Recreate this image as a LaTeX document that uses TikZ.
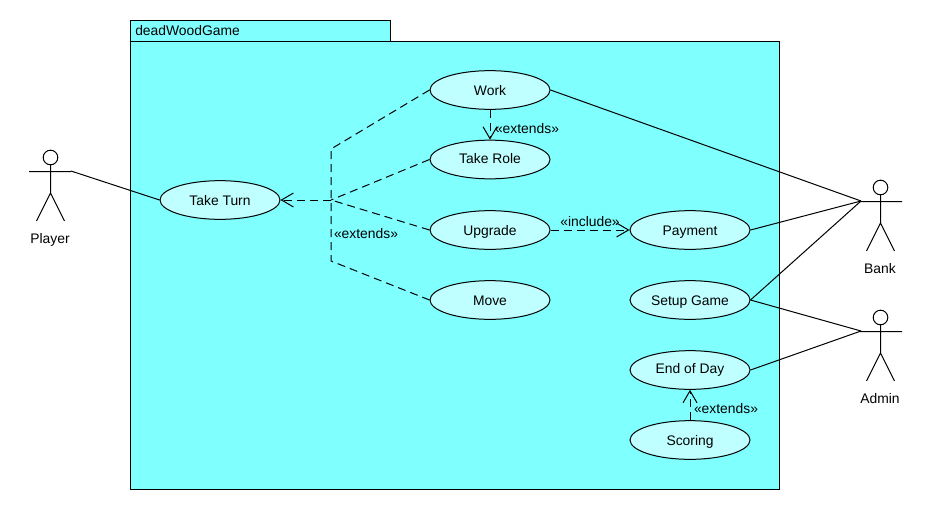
\documentclass[tikz,border=0pt]{standalone}
\usepackage{fontspec}
\setmainfont{Liberation Sans}
\usetikzlibrary{shapes.geometric,arrows.meta}
\definecolor{pkgfill}{HTML}{80FFFF}
\definecolor{ucfill}{HTML}{BFFFFF}
\definecolor{ink}{HTML}{000000}
\tikzset{
  every node/.style={font=\fontsize{10.4}{12}\selectfont,text=black,text height=8.5pt,text depth=1pt},
  pkg/.style={draw=ink,fill=pkgfill,line width=0.75pt},
  usecase/.style={ellipse,draw=ink,fill=ucfill,line width=0.75pt,minimum width=90pt,minimum height=29pt,inner sep=0pt},
  lbl/.style={inner sep=0pt},
  actorline/.style={draw=ink,line width=0.75pt},
  assoc/.style={draw=ink,line width=0.75pt},
  dep/.style={draw=ink,line width=0.75pt,dash pattern=on 6pt off 3.75pt},
  openhead/.style={-{Straight Barb[length=9pt,width=10.5pt,line width=0.75pt]}},
}
\begin{document}
\begin{tikzpicture}[x=0.75pt,y=-0.75pt]
\useasboundingbox (0,0) rectangle (930,510);
\fill[white] (0,0) rectangle (930,510);
% package
\draw[pkg] (130.5,20.5) rectangle (390.5,41.5);
\draw[pkg] (130.5,41.5) rectangle (779.5,489.5);
\node[lbl,anchor=west] (pkgname) at (135,31) {deadWoodGame};
% use cases
\node[usecase] (turn) at (220,200) {Take Turn};
\node[usecase] (work) at (490,90) {Work};
\node[usecase,text depth=3.25pt] (role) at (490,159.5) {Take Role};
\node[usecase] (upgrade) at (490,230) {Upgrade};
\node[usecase] (move) at (490,300) {Move};
\node[usecase] (payment) at (690,230) {Payment};
\node[usecase] (setup) at (690,300) {Setup Game};
\node[usecase,text depth=4pt] (endday) at (690,370) {End of Day};
\node[usecase] (scoring) at (690,440) {Scoring};
% actors
\draw[actorline] (50.5,157.5) circle[radius=7.3];
\draw[actorline] (50.5,165) -- (50.5,193) (29,171.5) -- (71,171.5) (36.5,221) -- (50.5,193) -- (64.5,221);
\node[lbl] (player) at (50,238) {Player};
\coordinate (playerhand) at (71,171);
\draw[actorline] (880.5,187.5) circle[radius=7.3];
\draw[actorline] (880.5,195) -- (880.5,223) (860,201.5) -- (902,201.5) (866.5,251) -- (880.5,223) -- (894.5,251);
\node[lbl] (bank) at (880,268) {Bank};
\coordinate (bankhand) at (861,201);
\draw[actorline] (880.5,317.5) circle[radius=7.3];
\draw[actorline] (880.5,325) -- (880.5,353) (860,331.5) -- (902,331.5) (866.5,381) -- (880.5,353) -- (894.5,381);
\node[lbl] (admin) at (880,398) {Admin};
\coordinate (adminhand) at (861,331);
% associations
\draw[assoc] (playerhand) -- (turn.west);
\draw[assoc] (work.east) -- (bankhand);
\draw[assoc] (payment.east) -- (bankhand);
\draw[assoc] (setup.east) -- (bankhand);
\draw[assoc] (setup.east) -- (adminhand);
\draw[assoc] (endday.east) -- (adminhand);
% dependencies
\coordinate (hub) at (331,200);
\coordinate (bendup) at (331,149);
\coordinate (benddown) at (331,261);
\draw[dep,openhead] (hub) -- (turn.east);
\draw[dep] (role.west) -- (hub);
\draw[dep] (upgrade.west) -- (hub);
\draw[dep] (work.west) -- (bendup) -- (benddown) -- (move.west);
\draw[dep,openhead] (work.south) -- (role.north);
\draw[dep,openhead] (upgrade.east) -- (payment.west);
\draw[dep,openhead] (scoring.north) -- (endday.south);
% labels
\node[lbl] (ext1) at (527,128) {«extends»};
\node[lbl] (ext2) at (366,233) {«extends»};
\node[lbl] (inc) at (590,221) {«include»};
\node[lbl] (ext3) at (726,408) {«extends»};
\end{tikzpicture}
\end{document}
